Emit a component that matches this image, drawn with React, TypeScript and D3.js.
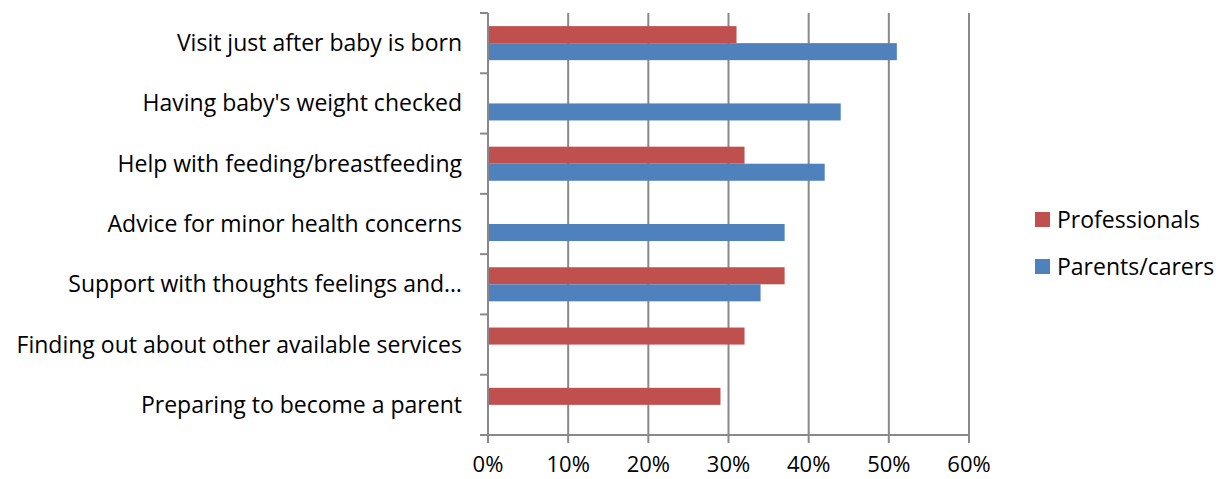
import * as React from "react";
import * as d3 from "d3";

const categories = [
  "Visit just after baby is born",
  "Having baby's weight checked",
  "Help with feeding/breastfeeding",
  "Advice for minor health concerns",
  "Support with thoughts feelings and…",
  "Finding out about other available services",
  "Preparing to become a parent",
];
const professionals: (number | null)[] = [31, null, 32, null, 37, 32, 29];
const parentsCarers: (number | null)[] = [51, 44, 42, 37, 34, null, null];
const xTicks = [0, 10, 20, 30, 40, 50, 60];
const seriesNames = ["Professionals", "Parents/carers"];
const seriesColors = ["#C0504D", "#4F81BD"];

const width = 1216;
const height = 479;
const plot = { left: 488, right: 969, top: 13, bottom: 435 };
const axisColor = "#898989";
const font = "'Open Sans', sans-serif";
const fontSize = 23;

export default function App() {
  const x = d3.scaleLinear().domain([0, 60]).range([plot.left, plot.right]);
  const y = d3
    .scaleBand()
    .domain(categories)
    .range([plot.top, plot.bottom])
    .padding(0);
  const inner = d3
    .scaleBand()
    .domain(seriesNames)
    .range([0, y.bandwidth()])
    .paddingInner(0)
    .paddingOuter(0.77);

  const series = [professionals, parentsCarers];
  const bounds = d3.range(categories.length + 1).map((i) => plot.top + i * y.step());

  return (
    <svg
      width={width}
      height={height}
      style={{ position: "absolute", left: 0, top: 0 }}
      fontFamily={font}
    >
      <rect width={width} height={height} fill="#fff" />
      {/* gridlines */}
      {xTicks.slice(1).map((t) => (
        <line key={t} x1={x(t)} x2={x(t)} y1={plot.top} y2={plot.bottom + 8} stroke={axisColor} strokeWidth={2} />
      ))}
      {/* bars */}
      {series.map((vals, si) =>
        vals.map((v, i) =>
          v == null ? null : (
            <rect
              key={`${si}-${i}`}
              x={x(0)}
              y={(y(categories[i]) ?? 0) + (inner(seriesNames[si]) ?? 0)}
              width={x(v) - x(0)}
              height={inner.bandwidth()}
              fill={seriesColors[si]}
            />
          )
        )
      )}
      {/* axes */}
      <line x1={plot.left} x2={plot.left} y1={plot.top} y2={plot.bottom + 8} stroke={axisColor} strokeWidth={2} />
      <line x1={plot.left - 8} x2={plot.right} y1={plot.bottom} y2={plot.bottom} stroke={axisColor} strokeWidth={2} />
      {bounds.map((b, i) => (
        <line key={i} x1={plot.left - 8} x2={plot.left} y1={b} y2={b} stroke={axisColor} strokeWidth={2} />
      ))}
      {/* category labels */}
      {categories.map((c) => (
        <text
          key={c}
          x={462}
          y={(y(c) ?? 0) + y.bandwidth() / 2}
          dy="0.35em"
          textAnchor="end"
          fontSize={fontSize}
          fill="#000"
        >
          {c}
        </text>
      ))}
      {/* x tick labels */}
      {xTicks.map((t) => (
        <text key={t} x={x(t)} y={472} textAnchor="middle" fontSize={22} fill="#000">
          {t}%
        </text>
      ))}
      {/* legend */}
      {seriesNames.map((s, i) => (
        <g key={s} transform={`translate(1035, ${212 + i * 47})`}>
          <rect width={15} height={15} fill={seriesColors[i]} />
          <text x={22} y={7.5} dy="0.35em" fontSize={fontSize} fill="#000">
            {s}
          </text>
        </g>
      ))}
    </svg>
  );
}
